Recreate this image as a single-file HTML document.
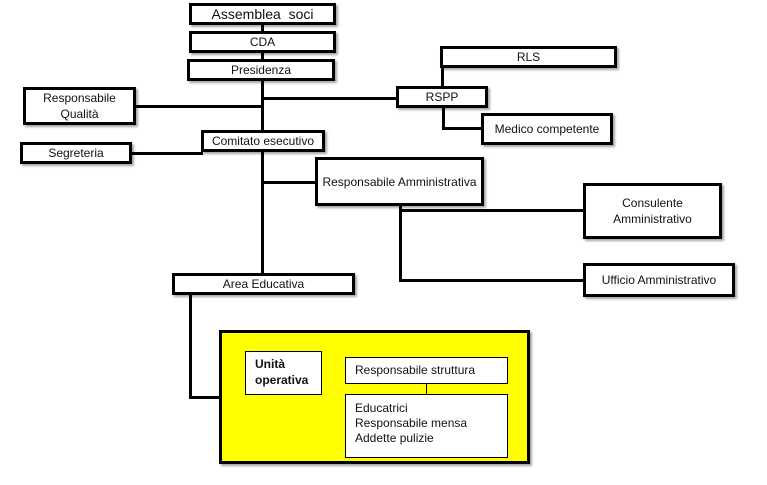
<!DOCTYPE html>
<html><head><meta charset="utf-8"><style>
body{margin:0;width:767px;height:485px;background:#fff;position:relative;overflow:hidden;font-family:"Liberation Sans",sans-serif;}
.b{position:absolute;box-sizing:border-box;border:3px solid #000;background:#fff;display:flex;align-items:center;justify-content:center;text-align:center;font-size:12px;line-height:16px;color:#111;box-shadow:2px 2px 2px rgba(0,0,0,0.35);}
.l{position:absolute;background:#000;}
.t{position:absolute;box-sizing:border-box;border:1px solid #000;background:#fff;font-size:12px;color:#111;}
</style></head><body>
<!-- lines -->
<div class="l" style="left:261px;top:22px;width:3px;height:254px"></div>
<div class="l" style="left:263px;top:97px;width:135px;height:3px"></div>
<div class="l" style="left:133px;top:105px;width:130px;height:3px"></div>
<div class="l" style="left:129px;top:152px;width:74px;height:3px"></div>
<div class="l" style="left:263px;top:181px;width:54px;height:3px"></div>
<div class="l" style="left:399px;top:204px;width:3px;height:78px"></div>
<div class="l" style="left:399px;top:209px;width:186px;height:3px"></div>
<div class="l" style="left:399px;top:279px;width:186px;height:3px"></div>
<div class="l" style="left:441px;top:65px;width:3px;height:23px"></div>
<div class="l" style="left:442px;top:106px;width:3px;height:24px"></div>
<div class="l" style="left:442px;top:127px;width:41px;height:3px"></div>
<div class="l" style="left:189px;top:292px;width:3px;height:107px"></div>
<div class="l" style="left:189px;top:396px;width:32px;height:3px"></div>
<!-- boxes -->
<div class="b" style="left:189px;top:3px;width:147px;height:22px;font-size:14px">Assemblea&nbsp; soci</div>
<div class="b" style="left:189px;top:31px;width:147px;height:22px">CDA</div>
<div class="b" style="left:187px;top:59px;width:148px;height:22px">Presidenza</div>
<div class="b" style="left:23px;top:87px;width:113px;height:38px">Responsabile<br>Qualità</div>
<div class="b" style="left:440px;top:46px;width:177px;height:22px">RLS</div>
<div class="b" style="left:396px;top:86px;width:92px;height:22px">RSPP</div>
<div class="b" style="left:481px;top:113px;width:132px;height:32px">Medico competente</div>
<div class="b" style="left:201px;top:130px;width:124px;height:22px">Comitato esecutivo</div>
<div class="b" style="left:20px;top:142px;width:112px;height:22px">Segreteria</div>
<div class="b" style="left:315px;top:157px;width:169px;height:49px">Responsabile Amministrativa</div>
<div class="b" style="left:583px;top:183px;width:139px;height:56px">Consulente<br>Amministrativo</div>
<div class="b" style="left:583px;top:263px;width:152px;height:34px">Ufficio Amministrativo</div>
<div class="b" style="left:172px;top:273px;width:183px;height:22px">Area Educativa</div>
<div class="b" style="left:219px;top:330px;width:311px;height:134px;background:#ffff00"></div>
<div class="t" style="left:245px;top:351px;width:77px;height:44px;padding:4px 0 0 9px;font-weight:bold;line-height:16px">Unità<br>operativa</div>
<div class="t" style="left:345px;top:357px;width:163px;height:27px;padding:5px 0 0 9px">Responsabile struttura</div>
<div class="l" style="left:426px;top:384px;width:1px;height:10px"></div>
<div class="t" style="left:345px;top:394px;width:163px;height:64px;padding:6px 0 0 9px;line-height:15px">Educatrici<br>Responsabile mensa<br>Addette pulizie</div>
</body></html>
